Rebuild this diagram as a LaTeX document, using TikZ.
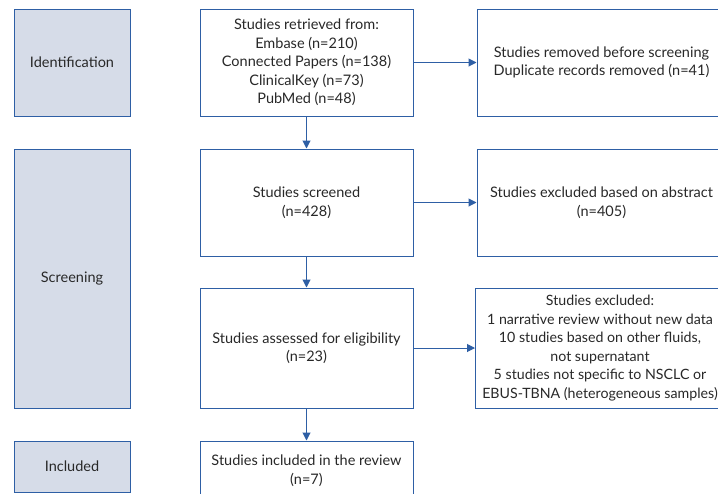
\documentclass[tikz,border=0pt]{standalone}
\usepackage{fontspec}
\setmainfont{Lato}
\usetikzlibrary{arrows.meta}

\definecolor{flowblue}{RGB}{46,95,165}
\definecolor{stagefill}{RGB}{214,220,232}
\definecolor{flowtext}{RGB}{40,40,40}

\tikzset{
  stagebox/.style={draw=flowblue, fill=stagefill, line width=1pt, text=flowtext,
    minimum width=116pt, align=center, font=\fontsize{14.5}{18.5}\selectfont},
  flowbox/.style={draw=flowblue, fill=white, line width=1pt, text=flowtext,
    minimum width=213pt, align=center, font=\fontsize{14.5}{18.5}\selectfont},
  outbox/.style={flowbox, minimum width=249pt},
  flowarrow/.style={draw=flowblue, line width=1pt, -{Triangle[length=8pt,width=8pt]}}
}

\begin{document}
\begin{tikzpicture}[x=1pt, y=-1pt]
        % \draw[help lines, gray!50, very thin] (0,0) grid (718,493);
        \useasboundingbox[fill=white] (0,0) rectangle (718,493);

        % stages on the left
        \node[stagebox, minimum height=107pt] (ident) at (72,62.5) {Identification};
        \node[stagebox, minimum height=259pt] (screen) at (72,278.5) {Screening};
        \node[stagebox, minimum height=51pt] (incl) at (72,466.5) {Included};

        % main column
        \node[flowbox, minimum height=107pt] (retrieved) at (306.5,62.5)
          {Studies retrieved from:\\Embase (n=210)\\Connected Papers (n=138)\\ClinicalKey (n=73)\\PubMed (n=48)};
        \node[flowbox, minimum height=107pt] (screened) at (306.5,202.5)
          {Studies screened\\(n=428)};
        \node[flowbox, minimum height=120pt] (eligible) at (306.5,348)
          {Studies assessed for eligibility\\(n=23)};
        \node[flowbox, minimum height=59pt] (included) at (306.5,470.5)
          {Studies included in the review\\(n=7)};

        % exclusions on the right
        \node[outbox, minimum height=107pt] (removed) at (601.5,62.5)
          {Studies removed before screening\\Duplicate records removed (n=41)};
        \node[outbox, minimum height=107pt] (abstract) at (601.5,202.5)
          {Studies excluded based on abstract\\(n=405)};
        \node[outbox, minimum height=120pt, font=\fontsize{14.2}{18.5}\selectfont] (excluded) at (600,348)
          {Studies excluded:\\1 narrative review without new data\\10 studies based on other fluids,\\not supernatant\\5 studies not specific to NSCLC or\\EBUS-TBNA (heterogeneous samples)};

        \draw[flowarrow] (retrieved) -- (screened);
        \draw[flowarrow] (screened) -- (eligible);
        \draw[flowarrow] (eligible) -- (included);

        \draw[flowarrow] (retrieved) -- (removed);
        \draw[flowarrow] (screened) -- (abstract);
        \draw[flowarrow] (eligible) -- (excluded);
      \end{tikzpicture}
\end{document}
